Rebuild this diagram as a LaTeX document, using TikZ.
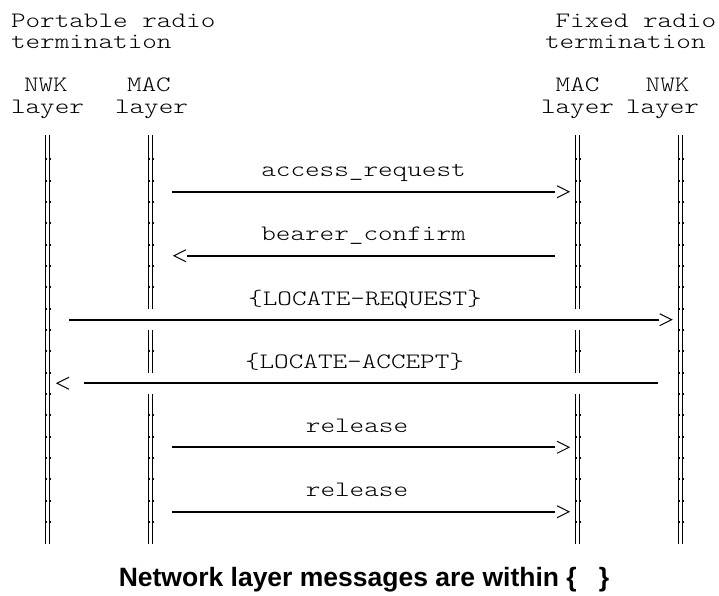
\documentclass[tikz,border=0pt]{standalone}
\usepackage{fontspec}
\usepackage{graphicx}
\newfontfamily\capfont{Liberation Sans}
% typewriter text, widened to the Courier-like pitch of the chart
\newcommand\tw[1]{\scalebox{1.264}[1]{\fontsize{22}{22}\fontseries{l}\ttfamily #1}}
\tikzset{
  txt/.style={inner sep=0pt, outer sep=0pt, anchor=base west},
  lbl/.style={inner sep=0pt, outer sep=0pt, anchor=base},
  life/.style={draw=black, line width=1.55pt, double=white, double distance=2.45pt},
  msg/.style={line width=1.8pt},
  chev/.style={line width=1pt, line join=miter},
  chevR/.pic={\draw[chev] (-12,-6) -- (0,0) -- (-12,6);},
  chevL/.pic={\draw[chev] (12,-6) -- (0,0) -- (12,6);},
}
\begin{document}
\begin{tikzpicture}[x=1pt, y=-1pt]
\useasboundingbox (0,0) rectangle (719,596);

% ---- headings ----
\node[txt] (prtA) at (11,27.7) {\tw{Portable radio}};
\node[txt] (prtB) at (11,48.3) {\tw{termination}};
\node[txt] (frtA) at (555.5,27.7) {\tw{Fixed radio}};
\node[txt] (frtB) at (545,48.3) {\tw{termination}};
\node[txt] (hNwkL) at (24,91.7) {\tw{NWK}};
\node[txt] (hMacL) at (127,91.7) {\tw{MAC}};
\node[txt] (hMacR) at (555.7,91.7) {\tw{MAC}};
\node[txt] (hNwkR) at (645.7,91.7) {\tw{NWK}};
\node[txt] (lNwkL) at (11,113.3) {\tw{layer}};
\node[txt] (lMacL) at (115,113.3) {\tw{layer}};
\node[txt] (lMacR) at (541,113.3) {\tw{layer}};
\node[txt] (lNwkR) at (626,113.3) {\tw{layer}};

% ---- lifelines ----
\coordinate (nwkL-top) at (47.5,135);  \coordinate (nwkL-bot) at (47.5,544);
\coordinate (nwkR-top) at (680.5,135); \coordinate (nwkR-bot) at (680.5,544);
\coordinate (macL-top) at (150.5,135); \coordinate (macL-bot) at (150.5,544);
\coordinate (macR-top) at (577.5,135); \coordinate (macR-bot) at (577.5,544);
\coordinate (macL-g1) at (150.5,309); \coordinate (macL-g2) at (150.5,330);
\coordinate (macL-g3) at (150.5,373); \coordinate (macL-g4) at (150.5,394);
\coordinate (macR-g1) at (577.5,309); \coordinate (macR-g2) at (577.5,330);
\coordinate (macR-g3) at (577.5,373); \coordinate (macR-g4) at (577.5,394);

\draw[life] (nwkL-top) -- (nwkL-bot);
\draw[life] (nwkR-top) -- (nwkR-bot);
\draw[life] (macL-top) -- (macL-g1);
\draw[life] (macL-g2) -- (macL-g3);
\draw[life] (macL-g4) -- (macL-bot);
\draw[life] (macR-top) -- (macR-g1);
\draw[life] (macR-g2) -- (macR-g3);
\draw[life] (macR-g4) -- (macR-bot);

% darker joints where the stacked bar glyphs overlap
\foreach \k in {1,...,18}{
  \pgfmathsetmacro\yy{138+\k*21.333}
  \foreach \xx in {47.5,680.5}{
    \fill ({\xx-2.0-1.0},\yy-1.1) rectangle ({\xx-2.0+1.0},\yy+1.1);
    \fill ({\xx+2.0-1.0},\yy-1.1) rectangle ({\xx+2.0+1.0},\yy+1.1);
  }
}
\foreach \k in {1,...,7,10,13,14,15,16,17,18}{
  \pgfmathsetmacro\yy{138+\k*21.333}
  \foreach \xx in {150.5,577.5}{
    \fill ({\xx-2.0-1.0},\yy-1.1) rectangle ({\xx-2.0+1.0},\yy+1.1);
    \fill ({\xx+2.0-1.0},\yy-1.1) rectangle ({\xx+2.0+1.0},\yy+1.1);
  }
}

% ---- messages ----
\coordinate (m1a) at (172,191.7);  \coordinate (m1b) at (555,191.7);
\coordinate (m2a) at (555,255.7);  \coordinate (m2b) at (187,255.7);
\coordinate (m3a) at (69,319.7);   \coordinate (m3b) at (658.5,319.7);
\coordinate (m4a) at (658,383.3);  \coordinate (m4b) at (84,383.3);
\coordinate (m5a) at (172,447.3);  \coordinate (m5b) at (555,447.3);
\coordinate (m6a) at (172,511.7);  \coordinate (m6b) at (555,511.7);

\draw[msg] (m1a) -- (m1b);
\path (m1b) ++(14,0) pic {chevR};
\node[lbl] (t1) at (363.5,176.7) {\tw{access\_request}};

\draw[msg] (m2a) -- (m2b);
\path (m2b) ++(-13,0) pic {chevL};
\node[lbl] (t2) at (363.5,240.7) {\tw{bearer\_confirm}};

\draw[msg] (m3a) -- (m3b);
\path (m3b) ++(13.2,0) pic {chevR};
\node[lbl] (t3) at (365,305) {\tw{\{LOCATE-REQUEST\}}};

\draw[msg] (m4a) -- (m4b);
\path (m4b) ++(-27,0) pic {chevL};
\node[lbl] (t4) at (354.5,368.3) {\tw{\{LOCATE-ACCEPT\}}};

\draw[msg] (m5a) -- (m5b);
\path (m5b) ++(14,0) pic {chevR};
\node[lbl] (t5) at (357,432.3) {\tw{release}};

\draw[msg] (m6a) -- (m6b);
\path (m6b) ++(14,0) pic {chevR};
\node[lbl] (t6) at (357,496.7) {\tw{release}};

% ---- caption ----
\node[lbl, font=\capfont\bfseries\fontsize{26.5}{30}\selectfont] (caption) at (364,586.7)
  {Network layer messages are within \{\ \ \ \}};
\end{tikzpicture}
\end{document}
